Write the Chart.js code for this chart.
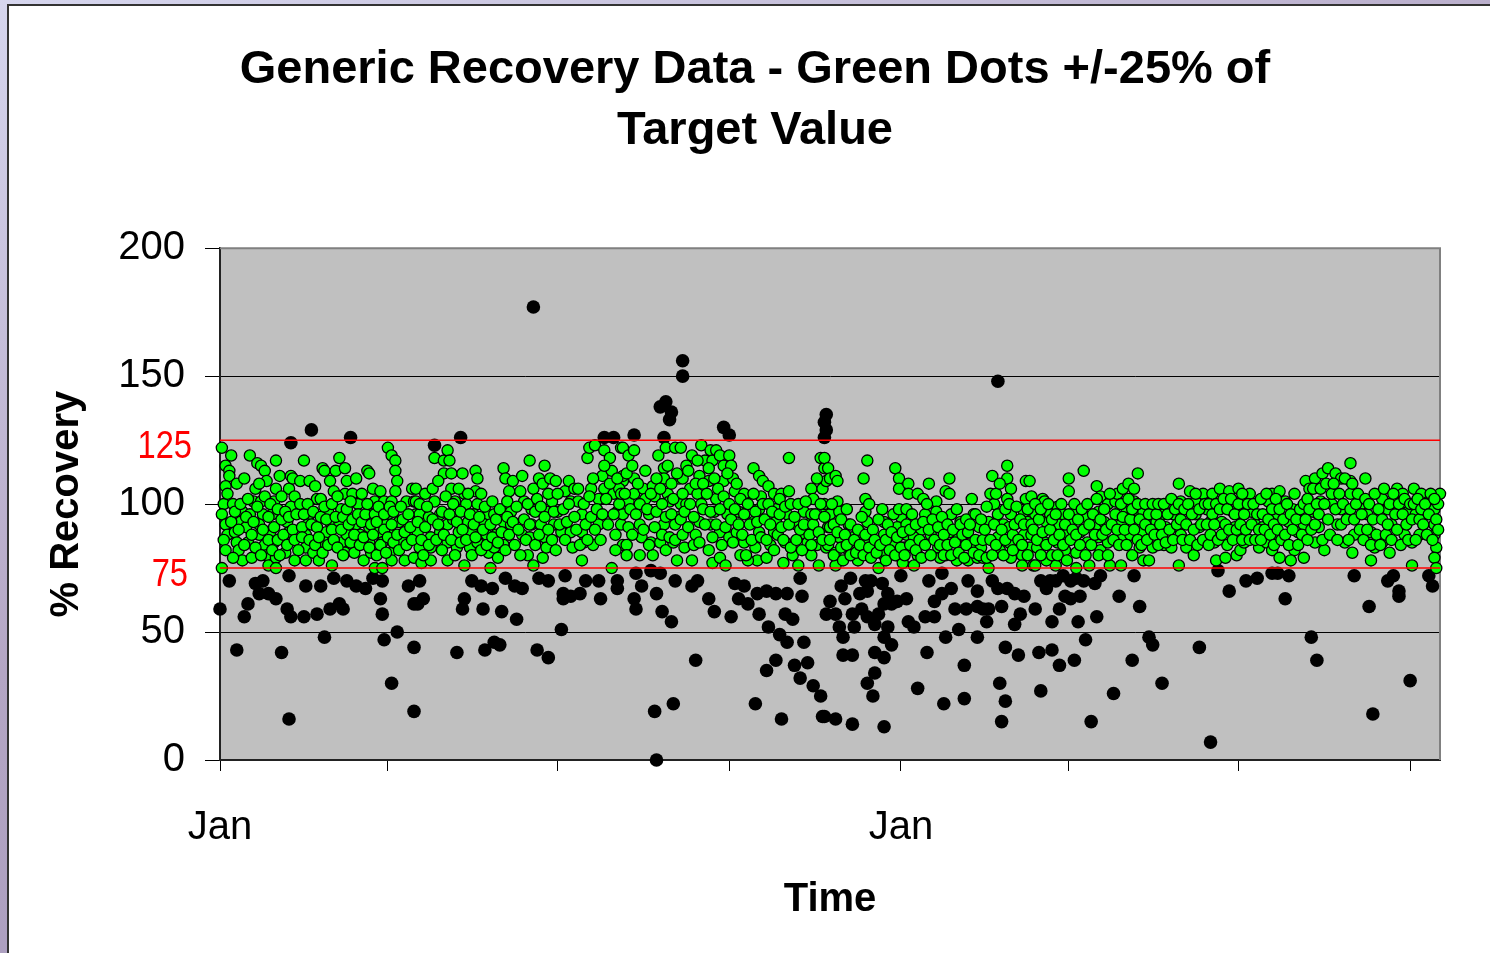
<!DOCTYPE html>
<html>
<head>
<meta charset="utf-8">
<title>Generic Recovery Data</title>
<script src="https://cdn.jsdelivr.net/npm/chart.js@4.4.0/dist/chart.umd.min.js"></script>
<style>
  html, body { margin: 0; padding: 0; }
  body {
    width: 1490px; height: 953px; overflow: hidden; position: relative;
    background: linear-gradient(160deg, #d6d6ee 0%, #b4a6c4 45%, #9f93b8 100%);
  }
  #sheet {
    position: absolute; left: 7px; top: 4px; right: 0; bottom: 0;
    background: #fff; border-left: 2px solid #333; border-top: 2px solid #333;
  }
  #chart { position: absolute; left: 0; top: 0; }
</style>
</head>
<body>
<div id="sheet"></div>
<canvas id="chart" width="1490" height="953"></canvas>
<script>
// ============================================================
// DATA  (x = days since first Jan, y = % recovery)
// ============================================================
const xTickDays   = [0, 90, 181, 273, 365, 455, 546, 638];
const xTickLabels = ['Jan', '', '', '', 'Jan', '', '', ''];
const xMaxDay = 654;

const limitValues = [125, 75];
const limitLabels = ['125', '75'];

// results inside the +/-25% band
const greenDots = [
  [1,122],[6,119],[3,115],[5,113],[5,111],[3,107],[2,100],[7,100],[1,96],[3,92],[4,88],[1,75],
  [12,97],[11,93],[8,89],[9,85],[10,82],[12,78],[16,119],[20,116],[19,106],[18,101],[16,96],[14,91],[15,85],[17,79],
  [22,115],[24,113],[25,109],[22,101],[23,96],[21,92],[21,88],[24,84],[25,80],[26,76],
  [30,117],[32,111],[30,106],[29,101],[28,96],[27,89],[29,85],[30,79],[30,75],
  [38,111],[37,106],[38,99],[36,93],[37,89],[35,81],[40,78],
  [39,110],[43,109],[45,117],[48,109],[51,107],[52,102],[48,96],[47,92],[46,88],[46,83],[46,78],[50,81],[53,78],[54,102],
  [55,114],[56,113],[59,109],[61,105],[58,97],[59,93],[57,89],[56,85],[60,76],
  [62,113],[64,118],[67,114],[68,109],[67,104],[65,98],[64,93],[65,85],[67,81],[68,88],
  [71,104],[73,110],[74,100],[73,92],[75,88],[72,81],[77,78],
  [79,113],[80,112],[82,106],[83,101],[81,96],[80,91],[80,85],[81,81],[83,75],
  [86,105],[88,101],[87,93],[85,89],[87,85],[91,81],[87,75],
  [90,122],[92,119],[94,117],[94,113],[95,109],[94,105],[92,101],[90,96],[89,92],[91,88],[92,78],
  [96,93],[97,88],[98,85],[99,78],[100,101],[103,106],[104,101],[105,96],[104,88],[104,79],
  [105,106],[105,101],[107,96],[106,89],[107,83],[108,77],[110,104],[112,95],[113,87],[113,83],[113,78],
  [115,118],[115,101],[118,96],[118,89],[120,117],[120,112],[122,121],[123,117],[124,112],[124,106],[126,101],
  [122,92],[122,85],[122,78],[125,94],[128,89],[127,83],[130,112],[131,104],[132,100],[133,93],[134,83],[131,76],
  [137,113],[138,110],[137,105],[138,100],[136,96],[135,89],[138,85],[142,93],[144,96],[143,88],[144,81],[145,75],
  [147,96],[148,88],[147,83],[149,79],[152,114],[153,110],[155,105],[152,98],[152,93],[152,84],[156,97],[156,92],
  [157,109],[162,111],[163,101],[162,88],[165,80],[166,117],[168,106],[167,98],[167,92],[166,87],[168,76],
  [171,110],[173,108],[174,115],[175,97],[172,92],[174,87],[173,79],[177,110],[178,101],[179,92],[180,109],
  [181,97],[183,89],[185,105],[187,109],[188,101],[190,106],[192,101],[188,89],[194,96],[194,89],[195,85],
  [200,84],[194,78],[197,118],[198,122],[201,123],[199,106],[203,102],[203,92],[205,111],[206,121],[206,106],
  [209,118],[210,113],[211,104],[213,97],[212,88],[210,75],[215,122],[216,109],[215,92],[216,84],
  [216,122],[219,119],[222,121],[216,111],[214,106],[219,101],[216,96],[219,91],[218,84],[218,80],[222,110],
  [222,104],[227,106],[228,102],[232,107],[233,103],[225,92],[226,87],[225,80],[230,96],[231,85],[232,80],
  [235,119],[239,122],[238,114],[238,110],[240,104],[241,101],[238,92],[236,85],[239,82],[243,85],[245,78],
  [244,122],[247,122],[246,110],[247,100],[246,95],[244,92],[250,115],[253,119],[248,110],[252,106],[250,100],
  [249,83],[253,78],[254,84],[258,123],[260,117],[257,111],[256,104],[258,100],[257,93],[263,121],[264,117],
  [262,109],[266,121],[268,119],[270,115],[270,109],[266,102],[265,97],[263,92],[262,82],[264,77],[268,89],
  [272,96],[273,119],[274,115],[275,110],[276,105],[273,87],[268,79],[271,76],[281,104],[278,97],[277,89],
  [281,85],[279,80],[286,114],[289,111],[291,109],[294,107],[290,103],[289,98],[286,93],[289,89],[287,83],
  [288,78],[283,78],[297,104],[301,104],[305,105],[305,118],[298,98],[297,89],[295,84],[293,79],[298,93],
  [304,96],[303,85],[302,77],[309,92],[307,80],[310,76],[313,97],[314,88],[317,106],[318,102],[317,96],
  [315,92],[315,85],[317,80],[320,84],[321,76],[322,118],[324,114],[323,106],[325,98],[326,91],[325,83],
  [324,118],[326,114],[325,109],[327,110],[330,111],[331,109],[324,100],[327,96],[331,101],[332,97],[327,91],
  [326,84],[330,81],[330,76],[332,87],[337,92],[339,87],[337,82],[342,78],[343,89],[347,117],[345,110],
  [346,102],[346,97],[347,93],[347,86],[351,84],[356,93],[356,88],[356,80],[353,75],[362,114],[364,110],
  [364,106],[369,108],[369,104],[365,95],[363,91],[361,85],[363,80],[368,92],[368,88],[367,83],[366,77],
  [374,104],[377,102],[380,108],[378,96],[376,90],[372,87],[374,80],[372,76],[381,88],[384,101],[384,97],
  [385,83],[386,79],[389,105],[391,110],[391,104],[392,96],[395,98],[397,93],[396,87],[391,89],[389,80],
  [395,78],[403,102],[404,96],[403,85],[401,78],[406,79],[409,79],[412,75],[408,83],[407,91],[412,93],
  [414,111],[413,104],[415,100],[417,96],[420,92],[417,87],[418,82],[422,115],[422,110],[424,106],[422,102],
  [424,96],[423,91],[423,85],[424,79],[430,80],[432,109],[432,102],[431,97],[433,93],[431,88],[434,83],
  [430,76],[436,76],
  [434,109],[435,103],[437,96],[435,88],[438,83],[437,76],[441,102],[442,101],[443,93],[442,85],[448,76],
  [443,78],[445,96],[449,99],[450,92],[449,85],[455,110],[455,105],[452,96],[454,88],[453,82],[456,93],
  [459,97],[463,113],[464,95],[461,89],[459,81],[459,75],[466,76],[465,85],[467,91],[470,107],[472,103],
  [471,97],[470,92],[471,87],[472,82],[476,100],[474,93],[476,85],[477,76],[480,101],[481,104],[484,106],
  [487,108],[490,106],[492,112],[490,101],[486,97],[483,92],[484,87],[483,76],[488,88],[491,96],[495,97],
  [494,89],[493,83],[495,78],[498,78],[498,92],[501,98],[502,93],[500,83],[506,96],[507,91],[506,84],
  [510,83],[514,108],[515,101],[511,96],[514,91],[515,88],[514,76],[518,83],[522,80],[520,105],[523,101],
  [523,96],[525,91],[527,104],[529,98],[532,104],[531,93],[533,85],[534,78],[536,106],[537,93],[540,84],
  [541,105],[543,97],[544,91],[545,80],[539,79],[547,100],
  [546,106],[547,101],[545,96],[546,87],[547,82],[549,85],[552,104],[553,97],[555,92],[557,83],[559,91],
  [562,101],[564,104],[568,105],[561,85],[564,82],[567,96],[567,87],[568,79],[571,101],[573,93],[575,98],
  [578,89],[576,82],[574,78],[581,79],[581,92],[582,109],[584,106],[587,110],[591,112],[594,114],[598,112],
  [601,110],[606,116],[606,109],[614,110],[586,97],[589,91],[587,85],[592,82],[590,101],[596,100],[601,98],
  [599,92],[603,85],[608,88],[607,81],[606,104],[612,100],[615,96],[617,89],[619,83],[617,78],[623,85],
  [623,102],[626,98],[628,92],[627,81],[631,106],[634,104],[637,97],[635,88],[640,106],[644,104],[648,101],
  [641,96],[643,88],[639,85],[639,76],[651,98],[651,92],[651,88],[652,83],[651,79],[652,75],[654,104],[653,100]
];

// more band results, read from the densest parts of the cloud
const greenDotsDense = [
  [2,86],[3,82],[4,104],[6,93],[7,79],[8,97],[9,108],[10,90],[11,100],[13,84],[13,110],[14,95],[15,102],
  [17,88],[18,93],[19,83],[20,99],[21,108],[22,80],[23,90],[24,103],[26,86],[26,95],[27,100],[28,82],
  [29,91],[31,98],[31,86],[32,80],[33,94],[33,103],[34,88],[35,97],[36,84],[37,95],[39,90],[40,86],
  [40,103],[41,96],[42,82],[43,100],[44,91],[44,87],[45,96],[47,100],[48,86],[49,92],[50,97],[51,84],
  [52,91],[53,87],[54,95],[55,81],[56,99],[57,94],[58,84],[60,90],[60,100],[61,86],[62,95],[63,83],
  [63,103],[65,90],[66,95],[66,80],[68,98],[69,92],[70,85],[70,101],[71,94],[72,88],[74,96],[75,84],
  [76,93],[76,104],[77,87],[78,96],[79,100],[80,83],[81,92],[82,88],[83,96],[84,80],[84,93],[85,99],
  [86,84],[88,90],[88,96],[89,81],[90,87],[91,99],[92,92],[93,85],[93,97],[95,88],[96,82],[97,99],
  [98,94],[99,89],[100,84],[101,96],[102,91],[103,86],
  [106,93],[107,100],[108,86],[109,80],[110,91],[111,99],[112,84],[114,94],[114,106],[116,86],[117,92],
  [117,109],[119,97],[119,82],[120,88],[121,103],[123,96],[124,86],[125,100],[126,80],[127,93],[128,106],
  [129,85],[129,97],[130,90],[132,86],[133,104],[134,96],[135,80],[136,92],[137,87],[139,95],[140,82],
  [140,104],[141,90],[142,99],[143,84],[145,92],[146,87],[146,101],[148,94],[149,85],[150,98],[151,89],
  [153,82],[154,95],[154,101],[155,88],[157,93],[158,84],[159,99],[160,90],[161,105],[161,80],[163,94],
  [164,86],[165,100],[166,92],[169,97],[169,84],[170,102],[171,88],[172,99],[174,95],[175,83],[176,90],
  [176,104],[178,86],[179,97],[180,82],[181,104],[182,92],[184,98],[185,86],[186,93],[187,100],[189,83],
  [190,95],[191,90],[192,106],[193,84],[195,100],[196,92],[197,86],[198,103],[199,95],[200,110],[201,90],
  [202,98],[204,86],[205,96],[206,115],[207,102],[208,92],[209,108],[211,96],[212,82],[213,110],[214,100],
  [215,104],
  [217,104],[218,112],[220,98],[221,88],[221,115],[223,96],[224,108],[225,100],[227,90],[228,113],[229,98],
  [230,84],[231,104],[233,91],[234,110],[234,97],[236,106],[237,88],[237,100],[239,95],[240,115],[241,87],
  [242,108],[242,96],[243,102],[244,86],[245,112],[247,94],[248,104],[248,88],[249,97],[251,91],[251,113],
  [252,100],[254,95],[255,108],[255,88],[256,117],[257,85],[259,98],[259,108],[260,92],[261,104],[262,114],
  [263,97],[264,87],[265,110],[266,92],[267,106],[268,98],[269,84],[270,103],[271,91],[272,112],[273,100],
  [274,94],[275,85],[276,98],[277,108],[278,92],[279,102],[280,88],[281,96],[282,80],[283,100],[284,92],
  [285,86],[286,104],[287,97],[288,93],[290,87],[291,100],[292,94],[293,86],[294,100],[295,92],[296,97],
  [297,82],[299,88],[300,96],[300,102],[301,91],[302,86],[303,99],[305,92],[306,83],[306,100],[308,95],
  [309,86],[310,100],[311,90],[312,82],[313,92],[314,101],[316,88],[317,84],[318,92],[319,96],[320,110],
  [321,89],[322,100],[323,86],[324,95],
  [327,86],[328,100],[329,92],[329,80],[331,89],[333,83],[333,94],[334,78],[335,88],[336,98],[336,84],
  [338,80],[338,92],[340,86],[341,81],[342,90],[343,84],[344,95],[345,80],[346,88],[348,83],[348,100],
  [349,79],[350,90],[351,86],[352,81],[353,94],[354,84],[355,98],[357,86],[357,78],[358,92],[359,82],
  [360,89],[361,96],[362,80],[363,87],[364,98],[365,83],[366,89],[367,80],[368,98],[370,84],[370,90],
  [371,96],[373,82],[373,92],[375,86],[376,79],[377,93],[378,84],[379,100],[380,90],[381,80],[382,94],
  [383,86],[385,91],[386,84],[387,95],[388,80],[388,88],[390,92],[390,84],[392,80],[393,90],[394,85],
  [396,81],[397,92],[398,88],[399,79],[400,94],[400,84],[401,89],[402,92],[404,81],[405,86],[405,96],
  [407,80],[408,94],[409,86],[410,90],[411,79],[411,99],[413,86],[414,80],[415,92],[416,104],[416,84],
  [418,108],[419,90],[420,80],[421,98],[421,86],[423,100],[425,88],[425,82],[426,92],[427,99],[428,86],
  [429,94],[430,84],[431,92],[433,80],[433,98],[435,92],
  [436,90],[437,100],[438,86],[439,94],[440,80],[440,98],[441,89],[443,84],[444,100],[445,90],[446,80],
  [446,94],[447,86],[448,96],[449,80],[450,88],[451,100],[452,84],[453,92],[454,78],[455,96],[456,86],
  [457,90],[458,100],[459,88],[460,94],[461,84],[462,98],[463,90],[464,80],[465,100],[466,92],[467,84],
  [468,96],[469,88],[470,102],[471,80],[472,94],[473,88],[474,98],[475,90],[476,80],[477,104],[478,92],
  [479,86],[480,96],[481,90],[482,84],[483,100],[484,95],[485,90],[486,84],[487,102],[488,94],[489,80],
  [489,98],[490,90],[492,86],[492,100],[493,94],[494,84],[496,92],[496,100],[497,86],[498,96],[499,90],
  [500,100],[501,88],[502,96],[503,84],[503,100],[504,92],[505,88],[506,100],[507,85],[508,96],[509,90],
  [510,102],[511,86],[512,98],[513,92],[514,100],[515,94],[516,86],[517,98],[518,92],[519,100],[520,86],
  [521,96],[522,90],[523,104],[524,84],[525,98],[526,92],[527,86],[528,100],[529,92],[530,84],[530,100],
  [531,88],[532,96],[533,92],[534,100],[535,86],[536,98],[537,88],[538,102],[539,92],[540,98],[541,90],
  [542,102],[543,86],[544,96],
  [545,90],[546,100],[547,92],[548,86],[548,104],[549,96],[550,90],[551,100],[552,86],[553,92],[554,100],
  [555,86],[556,96],[557,90],[558,102],[558,86],[559,96],[560,90],[561,104],[562,94],[563,88],[564,98],
  [565,84],[565,92],[566,102],[567,90],[568,98],[569,86],[570,94],[571,88],[572,100],[573,84],[574,96],
  [575,90],[576,104],[577,94],[578,84],[579,98],[580,88],[581,100],[582,94],[583,86],[583,102],[584,98],
  [585,90],[586,106],[587,92],[588,100],[589,96],[590,106],[591,86],[592,100],[593,108],[594,94],[595,88],
  [596,104],[597,108],[598,98],[599,86],[600,104],[601,92],[602,100],[603,110],[604,94],[605,86],[606,98],
  [607,108],[608,94],[609,100],[610,104],[611,90],[612,96],[613,86],[614,102],[615,90],[616,100],[617,84],
  [618,94],[619,104],[620,88],[621,98],[622,84],[623,94],[624,106],[625,88],[626,92],[627,100],[628,86],
  [629,104],[630,96],[631,90],[632,100],[633,84],[634,96],[635,102],[636,92],[637,86],[638,100],[639,94],
  [640,100],[641,86],[642,102],[643,94],[644,98],[645,92],[646,100],[647,88],[648,96],[649,104],[650,86],
  [651,102],[652,94],[653,90]
];

// results outside the band
const blackDots = [
  [0,59],[5,70],[9,43],[19,69],[23,70],[21,65],[15,61],[13,56],[26,65],[30,63],[37,72],[36,59],[38,56],
  [45,56],[46,68],[52,57],[54,68],[61,71],[59,59],[64,61],[66,59],[68,70],[73,68],[78,67],[82,71],[87,70],
  [86,63],[87,57],[95,50],[88,47],[101,68],[104,61],[104,44],[33,42],[56,48],[92,30],[37,16],[104,19],
  [49,129],[38,124],[70,126],
  [168,177],[115,123],[129,126],[206,126],[211,126],[107,70],[109,63],[106,61],[135,70],[131,63],[130,59],
  [141,59],[140,68],[146,67],[151,58],[153,71],[158,68],[162,67],[159,55],[171,71],[176,70],[185,72],
  [184,65],[188,64],[193,65],[184,63],[183,51],[196,70],[203,70],[204,63],[213,70],[213,67],[127,42],
  [142,43],[147,46],[150,45],[170,43],[176,40],
  [248,156],[248,150],[236,138],[239,140],[242,136],[241,133],[270,130],[273,127],[222,127],[238,126],
  [324,132],[324,126],[223,73],[231,74],[236,73],[226,68],[222,63],[223,59],[234,65],[237,58],[242,54],
  [244,70],[256,70],[253,68],[262,63],[265,58],[274,56],[276,69],[281,68],[278,63],[283,61],[289,57],
  [288,65],[293,66],[298,65],[304,65],[294,52],[300,49],[304,46],[303,57],[307,55],[311,71],[312,64],
  [313,46],[298,39],[293,35],[308,37],[311,32],[315,38],[318,29],[322,25],[287,22],[301,16],[255,39],
  [243,22],[233,19],[234,0],[323,17],
  [325,135],[325,129],[417,148],[327,62],[325,57],[330,57],[333,68],[338,71],[335,63],[332,52],[334,48],
  [340,52],[339,41],[334,41],[343,65],[346,70],[347,66],[339,57],[344,59],[347,56],[351,53],[353,57],
  [349,70],[355,69],[358,65],[356,61],[360,61],[363,62],[358,52],[356,48],[360,45],[356,40],[351,42],
  [351,34],[347,30],[350,25],[330,16],[324,17],[339,14],[356,13],[365,72],[368,63],[369,54],[372,52],
  [379,42],[374,28],[378,56],[383,56],[380,70],[387,73],[392,67],[383,62],[387,65],[394,59],[400,59],
  [406,60],[409,59],[396,51],[389,48],[399,37],[399,24],[388,22],[401,70],[406,66],[414,70],[411,54],
  [406,48],[412,59],[417,67],[422,67],[426,65],[431,64],[419,60],[429,57],[426,53],[421,44],[428,41],
  [418,30],[421,23],[419,15],
  [437,59],[440,70],[443,67],[445,70],[448,70],[452,72],[456,70],[459,71],[463,70],[472,72],[469,69],
  [453,64],[456,63],[461,64],[450,59],[446,54],[460,54],[470,56],[464,47],[482,64],[490,72],[493,60],
  [439,42],[446,43],[450,37],[458,39],[440,27],[467,15],[479,26],[489,39],[498,48],[500,45],[505,30],
  [525,44],[535,74],[541,66],[531,7],
  [550,70],[556,71],[564,73],[567,73],[573,72],[571,63],[585,48],[588,39],[608,72],[616,60],[626,70],
  [629,72],[632,66],[632,64],[618,18],[638,31],[648,72],[650,68]
];

// ============================================================
// CHART
// ============================================================
const FONT = '"Liberation Sans", Arial, sans-serif';

const plotFrame = {
    id: 'plotFrame',
    beforeDraw: function(chart) {
        const a = chart.chartArea;
        const ctx = chart.ctx;
        ctx.save();
        ctx.fillStyle = '#c0c0c0';
        ctx.fillRect(a.left, a.top, a.right - a.left, a.bottom - a.top);
        ctx.restore();
    },
    beforeDatasetsDraw: function(chart) {
        const a = chart.chartArea;
        const ctx = chart.ctx;
        ctx.save();
        ctx.strokeStyle = '#808080';
        ctx.lineWidth = 2;
        ctx.beginPath();
        ctx.moveTo(a.left, a.top);
        ctx.lineTo(a.right, a.top);
        ctx.lineTo(a.right, a.bottom);
        ctx.stroke();
        ctx.restore();
    },
    afterDraw: function(chart) {
        // red labels for the +/-25% limits (narrow face)
        const y = chart.scales.y;
        const ctx = chart.ctx;
        const squeeze = 0.86;
        ctx.save();
        ctx.scale(squeeze, 1);
        ctx.fillStyle = '#ff0000';
        ctx.font = '38px "Liberation Sans", Arial, sans-serif';
        ctx.textAlign = 'right';
        ctx.textBaseline = 'middle';
        limitValues.forEach(function(v, i) {
            ctx.fillText(limitLabels[i], (i === 0 ? 192 : 188) / squeeze, y.getPixelForValue(v) + 7);
        });
        ctx.restore();
    }
};

function toPoints(list) {
    return list.map(function(p) { return { x: p[0], y: p[1] }; });
}

new Chart(document.getElementById('chart'), {
    type: 'scatter',
    data: {
        datasets: [
            {
                label: 'Upper limit',
                data: [{ x: 0, y: limitValues[0] }, { x: xMaxDay, y: limitValues[0] }],
                showLine: true,
                borderColor: '#ff0000',
                borderWidth: 1.5,
                pointRadius: 0,
                order: 1
            },
            {
                label: 'Lower limit',
                data: [{ x: 0, y: limitValues[1] }, { x: xMaxDay, y: limitValues[1] }],
                showLine: true,
                borderColor: '#ff0000',
                borderWidth: 1.5,
                pointRadius: 0,
                order: 1
            },
            {
                label: 'Within +/-25%',
                data: toPoints(greenDots.concat(greenDotsDense)),
                backgroundColor: '#00ff00',
                borderColor: '#000000',
                borderWidth: 1.3,
                pointRadius: 5.6,
                clip: false,
                order: 2
            },
            {
                label: 'Outside',
                data: toPoints(blackDots),
                backgroundColor: '#000000',
                borderColor: '#000000',
                borderWidth: 0,
                pointRadius: 6.8,
                clip: false,
                order: 3
            }
        ]
    },
    options: {
        responsive: false,
        animation: false,
        devicePixelRatio: 1,
        events: [],
        layout: { padding: { left: 40, right: 20, top: 0, bottom: 0 } },
        plugins: {
            legend: { display: false },
            tooltip: { enabled: false },
            title: {
                display: true,
                text: ['Generic Recovery Data - Green Dots +/-25% of', 'Target Value'],
                color: '#000',
                font: { family: FONT, size: 47, weight: 'bold', lineHeight: 1.3 },
                padding: { top: 39, bottom: 87 }
            }
        },
        scales: {
            x: {
                type: 'linear',
                min: 0,
                max: xMaxDay,
                afterFit: function(scale) { scale.height = 193; },
                afterBuildTicks: function(scale) {
                    scale.ticks = xTickDays.map(function(v) { return { value: v }; });
                },
                ticks: {
                    autoSkip: false,
                    maxRotation: 0,
                    padding: 33,
                    color: '#000',
                    font: { family: FONT, size: 40 },
                    callback: function(value, index) { return xTickLabels[index]; }
                },
                grid: { drawOnChartArea: false, tickLength: 11, color: '#000' },
                border: { display: true, color: '#222', width: 2 },
                title: {
                    display: true,
                    text: 'Time',
                    color: '#000',
                    font: { family: FONT, size: 40, weight: 'bold' },
                    padding: { top: 0, bottom: 29 }
                }
            },
            y: {
                min: 0,
                max: 200,
                afterFit: function(scale) { scale.width = 180; },
                ticks: {
                    stepSize: 50,
                    padding: 20,
                    color: '#000',
                    font: { family: FONT, size: 40 }
                },
                grid: {
                    tickLength: 15,
                    tickColor: '#000',
                    color: function(ctx) {
                        return ctx.tick && ctx.tick.value === 200 ? 'rgba(0,0,0,0)' : '#000';
                    }
                },
                border: { display: true, color: '#222', width: 2 },
                title: {
                    display: true,
                    text: '% Recovery',
                    color: '#000',
                    font: { family: FONT, size: 40, weight: 'bold' },
                    padding: { top: 3, bottom: 0 }
                }
            },
            yRight: {
                position: 'right',
                display: true,
                afterFit: function(scale) { scale.width = 30; },
                ticks: { display: false },
                grid: { display: false },
                border: { display: false }
            }
        }
    },
    plugins: [plotFrame]
});
</script>
</body>
</html>
